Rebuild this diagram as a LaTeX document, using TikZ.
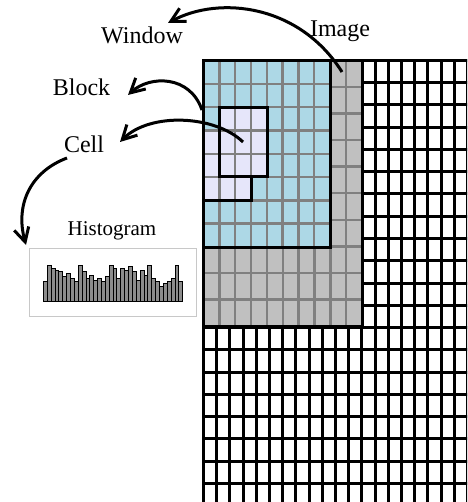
\documentclass[tikz,border=0pt]{standalone}
\usepackage{fontspec}
\setmainfont{Liberation Serif}
\usetikzlibrary{arrows.meta}
\definecolor{cellgray}{HTML}{C0C0C0}
\definecolor{linegray}{HTML}{808080}
\definecolor{winblue}{HTML}{ADD8E6}
\definecolor{blocklav}{HTML}{E6E6FA}
\definecolor{histgray}{HTML}{8C8C8C}
\definecolor{boxgray}{HTML}{C8C8C8}
\begin{document}
\begin{tikzpicture}[x=1pt,y=-1pt,
  thickline/.style={line width=3pt, black, line cap=rect},
  gridgray/.style={line width=2.4pt, linegray},
  arr/.style={line width=3pt, -{Straight Barb[length=14pt,width=15pt]}},
  lab/.style={font=\fontsize{24}{28}\selectfont, anchor=base, inner sep=0pt},
  bar/.style={fill=histgray, draw=black, line width=0.7pt}]
\useasboundingbox (0,0) rectangle (467,502);
\fill[white] (0,0) rectangle (467,502);
% big white grid
\begin{scope}
\clip (0,0) rectangle (467,502);
\foreach \k in {0,...,20} \draw[thickline] ({203.5+13.2*\k},60.5) -- ({203.5+13.2*\k},510);
\foreach \j in {0,...,20} \draw[thickline] (203.5,{60.5+22.25*\j}) -- (470,{60.5+22.25*\j});
\end{scope}
% gray image region
\fill[cellgray] (203.5,60.5) rectangle (362,326);
\foreach \k in {1,...,9} \draw[gridgray] ({203.5+15.85*\k},60.5) -- ++(0,265.5);
\foreach \j in {1,...,9} \draw[gridgray] (203.5,{60.5+26.55*\j}) -- ++(158.5,0);
% window
\fill[winblue] (203.5,60.5) rectangle (330,247);
\fill[blocklav] (219.3,107.1) -- (267,107.1) -- (267,177) -- (251.2,177) -- (251.2,200.3) -- (203.5,200.3) -- (203.5,130.4) -- (219.3,130.4) -- cycle;
\foreach \k in {1,...,7} \draw[gridgray] ({203.5+15.81*\k},60.5) -- ++(0,186.5);
\foreach \j in {1,...,7} \draw[gridgray] (203.5,{60.5+23.31*\j}) -- ++(126.5,0);
\draw[thickline] (219.3,107.1) rectangle (267,177);
\draw[thickline] (251.2,177) -- (251.2,200.3) -- (203.5,200.3);
\draw[thickline] (203.5,60.5) rectangle (330,247);
\draw[thickline] (203.5,60.5) rectangle (362,326);
% labels
\node[lab] (image) at (340,36.5) {Image};
\node[lab] (window) at (142,43.5) {Window};
\node[lab] (block) at (81.5,96) {Block};
\node[lab] (cell) at (84,152.5) {Cell};
\node[lab, font=\fontsize{21}{25}\selectfont] (hist) at (112,235) {Histogram};
% histogram box
\node[draw=boxgray, line width=1.2pt, minimum width=167pt, minimum height=68pt, inner sep=0pt] (hbox) at (113,282.5) {};
\foreach \h [count=\i from 0] in {20,36.7,33.3,31.7,30,25,28.3,23.3,20,36.7,30,23.3,26.7,21.7,23.3,20,25,36.7,33.3,23.3,33.3,31.7,35,30,21.7,31.7,26.7,36.7,23.3,20,15,18.3,20,23.3,36.7,20}
  \draw[bar] ({43.3+3.87*\i},301.7) rectangle ++(3.87,-\h);
\draw[line width=1pt] (43.3,301.7) -- (182.7,301.7);
% arrows
\coordinate (wS) at (342,72);
\coordinate (wE) at (168,23);
\coordinate (bS) at (202,110);
\coordinate (bE) at (128,95);
\coordinate (cS) at (243,142);
\coordinate (cE) at (120,142);
\coordinate (hS) at (67,158);
\coordinate (hE) at (26,245);
\draw[arr] (wS) .. controls (300,5) and (220,-5) .. (wE);
\draw[arr] (bS) .. controls (190,75) and (150,75) .. (bE);
\draw[arr] (cS) .. controls (215,115) and (150,112) .. (cE);
\draw[arr] (hS) .. controls (30,172) and (15,205) .. (hE);
\end{tikzpicture}
\end{document}
